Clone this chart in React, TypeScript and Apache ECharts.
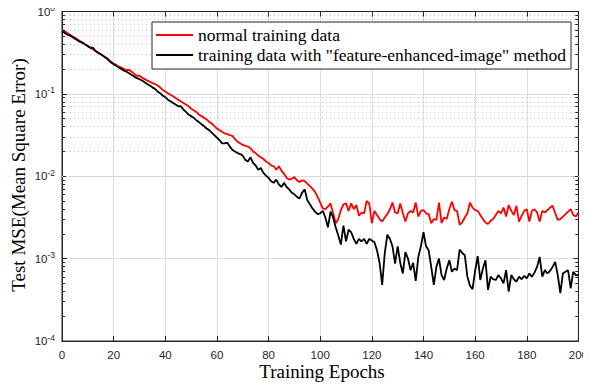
import React, { useEffect, useRef } from "react";
import * as echarts from "echarts";

const epochs: number[] = Array.from({ length: 201 }, (_, i) => i);

const normalData = [
  0.603, 0.575, 0.550, 0.525, 0.501, 0.479, 0.457, 0.437, 0.417, 0.398,
  0.380, 0.363, 0.347, 0.331, 0.316, 0.302, 0.288, 0.275, 0.263, 0.245,
  0.234, 0.224, 0.214, 0.209, 0.200, 0.195, 0.195, 0.186, 0.174, 0.166,
  0.166, 0.158, 0.151, 0.145, 0.141, 0.135, 0.132, 0.126, 0.120, 0.112,
  0.107, 0.102, 0.0977, 0.0933, 0.0891, 0.0851, 0.0813, 0.0776, 0.0741, 0.0708,
  0.0661, 0.0631, 0.0603, 0.0562, 0.0537, 0.0513, 0.0490, 0.0457, 0.0437, 0.0407,
  0.0380, 0.0363, 0.0347, 0.0331, 0.0324, 0.0316, 0.0309, 0.0282, 0.0263, 0.0251,
  0.0240, 0.0234, 0.0229, 0.0219, 0.0200, 0.0191, 0.0178, 0.0170, 0.0162, 0.0151,
  0.0145, 0.0135, 0.0132, 0.0120, 0.0132, 0.0117, 0.0107, 0.00955, 0.00912, 0.00933,
  0.00977, 0.00891, 0.00851, 0.00891, 0.00871, 0.00813, 0.00759, 0.00708, 0.00646, 0.00562,
  0.00479, 0.00407, 0.00398, 0.00427, 0.00468, 0.00355, 0.00269, 0.00302, 0.00389, 0.00457,
  0.00468, 0.00380, 0.00468, 0.00398, 0.00447, 0.00331, 0.00363, 0.00355, 0.00501, 0.00468,
  0.00269, 0.00380, 0.00339, 0.00302, 0.00282, 0.00316, 0.00347, 0.00398, 0.00479, 0.00363,
  0.00355, 0.00468, 0.00355, 0.00282, 0.00355, 0.00380, 0.00363, 0.00479, 0.00324, 0.00380,
  0.00389, 0.00355, 0.00347, 0.00269, 0.00302, 0.00295, 0.00479, 0.00269, 0.00316, 0.00302,
  0.00398, 0.00490, 0.00389, 0.00380, 0.00257, 0.00275, 0.00316, 0.00355, 0.00479, 0.00417,
  0.00389, 0.00380, 0.00339, 0.00302, 0.00275, 0.00263, 0.00288, 0.00302, 0.00339, 0.00380,
  0.00355, 0.00417, 0.00324, 0.00447, 0.00380, 0.00339, 0.00437, 0.00282, 0.00331, 0.00380,
  0.00398, 0.00282, 0.00380, 0.00398, 0.00363, 0.00282, 0.00380, 0.00363, 0.00389, 0.00417,
  0.00437, 0.00355, 0.00295, 0.00302, 0.00324, 0.00347, 0.00372, 0.00398, 0.00339, 0.00324,
  0.00363,
];

const enhancedData = [
  0.575, 0.550, 0.525, 0.513, 0.490, 0.468, 0.447, 0.427, 0.417, 0.398,
  0.380, 0.363, 0.363, 0.331, 0.316, 0.302, 0.288, 0.275, 0.257, 0.240,
  0.229, 0.219, 0.209, 0.200, 0.191, 0.186, 0.178, 0.170, 0.162, 0.155,
  0.151, 0.145, 0.138, 0.132, 0.126, 0.120, 0.115, 0.107, 0.102, 0.0955,
  0.0912, 0.0851, 0.0813, 0.0776, 0.0741, 0.0708, 0.0708, 0.0646, 0.0603, 0.0562,
  0.0537, 0.0513, 0.0479, 0.0457, 0.0427, 0.0407, 0.0380, 0.0363, 0.0339, 0.0316,
  0.0295, 0.0275, 0.0251, 0.0251, 0.0257, 0.0229, 0.0209, 0.0200, 0.0191, 0.0186,
  0.0178, 0.0158, 0.0151, 0.0170, 0.0145, 0.0135, 0.0120, 0.0126, 0.0110, 0.0102,
  0.00955, 0.00871, 0.00832, 0.00912, 0.00794, 0.00741, 0.00832, 0.00741, 0.00692, 0.00631,
  0.00603, 0.00562, 0.00537, 0.00631, 0.00692, 0.00513, 0.00457, 0.00407, 0.00372, 0.00347,
  0.00355, 0.00380, 0.00316, 0.00240, 0.00372, 0.00316, 0.00240, 0.00191, 0.00148, 0.00251,
  0.00162, 0.00224, 0.00209, 0.00174, 0.00151, 0.00174, 0.00162, 0.00174, 0.00151, 0.00174,
  0.00166, 0.00158, 0.00126, 0.000891, 0.000479, 0.00117, 0.00195, 0.00174, 0.00141, 0.000871,
  0.00141, 0.000891, 0.000661, 0.00120, 0.00100, 0.000724, 0.000891, 0.000537, 0.00105, 0.00141,
  0.00209, 0.00141, 0.00126, 0.000794, 0.000479, 0.000794, 0.00100, 0.000631, 0.000550, 0.000759,
  0.000955, 0.000692, 0.000759, 0.000724, 0.00129, 0.00117, 0.00110, 0.000603, 0.000468, 0.000427,
  0.000708, 0.00107, 0.000550, 0.000759, 0.000955, 0.000417, 0.000603, 0.000562, 0.000550, 0.000631,
  0.000575, 0.000501, 0.000724, 0.000398, 0.000631, 0.000562, 0.000525, 0.000603, 0.000562, 0.000617,
  0.000575, 0.000661, 0.000603, 0.000676, 0.000794, 0.00105, 0.000603, 0.000724, 0.000661, 0.000708,
  0.000794, 0.000912, 0.000631, 0.000380, 0.000661, 0.000692, 0.000724, 0.000437, 0.000692, 0.000631,
  0.000631,
];

const seriesNames = [
  "normal training data",
  'training data with "feature-enhanced-image" method',
];
const seriesColors = ["#ff0000", "#000000"];

const xMin = 0;
const xMax = 200;
const xInterval = 20;
const yMin = 1e-4;
const yMax = 1;

// minor (log) grid positions: 2..9 x 10^k
const minorMultipliers = [2, 3, 4, 5, 6, 7, 8, 9];
const decades = [1e-4, 1e-3, 1e-2, 1e-1];
const minorValues: number[] = [];
decades.forEach((d) => minorMultipliers.forEach((m) => minorValues.push(m * d)));

const AX = "#262626";
const GRID = "#dedede";

export default function App() {
  const ref = useRef<HTMLDivElement>(null);

  useEffect(() => {
    if (!ref.current) return;
    const chart = echarts.init(ref.current, undefined, { renderer: "svg" });

    const axisLine = { show: true, onZero: false, lineStyle: { color: AX, width: 1 } };
    const tickStyle = { show: true, inside: true, length: 5, lineStyle: { color: AX, width: 1 } };
    const minorTickLen = 1.2; // in epochs

    const option: any = {
      animation: false,
      backgroundColor: "#ffffff",
      grid: {
        left: 62,
        right: 8,
        top: 11.5,
        bottom: 49,
        show: true,
        borderColor: AX,
        borderWidth: 1,
        backgroundColor: "transparent",
      },
      xAxis: [
        {
          type: "value",
          min: xMin,
          max: xMax,
          interval: xInterval,
          position: "bottom",
          axisLine,
          axisTick: tickStyle,
          axisLabel: {
            color: AX,
            fontSize: 11.5,
            fontFamily: "Liberation Sans",
            margin: 8,
          },
          splitLine: { show: true, lineStyle: { color: GRID, width: 1 } },
        },
        {
          type: "value",
          min: xMin,
          max: xMax,
          interval: xInterval,
          position: "top",
          axisLine,
          axisTick: tickStyle,
          axisLabel: { show: false },
          splitLine: { show: false },
        },
      ],
      yAxis: [
        {
          type: "log",
          logBase: 10,
          min: yMin,
          max: yMax,
          position: "left",
          axisLine,
          axisTick: tickStyle,
          axisLabel: {
            margin: 7,
            formatter: (v: number) => {
              const e = Math.round(Math.log10(v));
              return `{b|10}{e|${e}}`;
            },
            rich: {
              b: { fontSize: 11.5, fontFamily: "Liberation Sans", color: AX },
              e: {
                fontSize: 8.5,
                fontFamily: "Liberation Sans",
                color: AX,
                verticalAlign: "bottom",
                padding: [0, 0, 7, 0],
              },
            },
          },
          splitLine: { show: true, lineStyle: { color: GRID, width: 1 } },
        },
        {
          type: "log",
          logBase: 10,
          min: yMin,
          max: yMax,
          position: "right",
          axisLine,
          axisTick: tickStyle,
          axisLabel: { show: false },
          splitLine: { show: false },
        },
      ],
      legend: {
        data: seriesNames.map((n, i) => ({
          name: n,
          icon: "rect",
          itemStyle: { color: seriesColors[i], borderWidth: 0 },
          lineStyle: { color: seriesColors[i], type: "solid", width: 2 },
        })),
        z: 20,
        orient: "vertical",
        left: 152,
        top: 22,
        backgroundColor: "#ffffff",
        borderColor: AX,
        borderWidth: 1,
        borderRadius: 0,
        padding: [3, 5, 4, 4],
        itemGap: 0,
        itemWidth: 37,
        itemHeight: 2,
        textStyle: {
          fontFamily: "Liberation Serif",
          fontSize: 17.5,
          color: "#000",
          lineHeight: 20,
        },
      },
      series: [
        {
          name: "minor-grid",
          type: "line",
          xAxisIndex: 0,
          yAxisIndex: 0,
          data: [],
          symbol: "none",
          silent: true,
          z: 1,
          markLine: {
            z: 1,
            silent: true,
            symbol: ["none", "none"],
            label: { show: false },
            animation: false,
            lineStyle: { color: "#c4c4c4", width: 1, type: [1, 3] },
            emphasis: { disabled: true },
            data: minorValues.map((v) => ({ yAxis: v })),
          },
        },
        {
          name: "minor-ticks",
          type: "line",
          xAxisIndex: 0,
          yAxisIndex: 0,
          data: [],
          symbol: "none",
          silent: true,
          z: 6,
          markLine: {
            z: 6,
            silent: true,
            symbol: ["none", "none"],
            label: { show: false },
            animation: false,
            lineStyle: { color: AX, width: 1, type: "solid" },
            emphasis: { disabled: true },
            data: [
              ...minorValues.map((v) => [
                { coord: [xMin, v] },
                { coord: [xMin + minorTickLen, v] },
              ]),
              ...minorValues.map((v) => [
                { coord: [xMax - minorTickLen, v] },
                { coord: [xMax, v] },
              ]),
            ],
          },
        },
        {
          name: seriesNames[0],
          type: "line",
          xAxisIndex: 0,
          yAxisIndex: 0,
          data: epochs.map((e, i) => [e, normalData[i]]),
          symbol: "none",
          lineStyle: { color: seriesColors[0], width: 1.8, type: "solid" },
          itemStyle: { color: seriesColors[0] },
          z: 3,
        },
        {
          name: seriesNames[1],
          type: "line",
          xAxisIndex: 0,
          yAxisIndex: 0,
          data: epochs.map((e, i) => [e, enhancedData[i]]),
          symbol: "none",
          lineStyle: { color: seriesColors[1], width: 1.8, type: "solid" },
          itemStyle: { color: seriesColors[1] },
          z: 4,
        },
      ],
      graphic: [
        {
          type: "text",
          x: 18,
          y: 175,
          rotation: Math.PI / 2,
          style: {
            text: "Test MSE(Mean Square Error)",
            font: '19px "Liberation Serif"',
            fill: "#000",
            align: "center",
            verticalAlign: "middle",
          },
        },
        {
          type: "text",
          x: 322,
          y: 371,
          style: {
            text: "Training Epochs",
            font: '19px "Liberation Serif"',
            fill: "#000",
            align: "center",
            verticalAlign: "middle",
          },
        },
      ],
    };

    chart.setOption(option);
    return () => chart.dispose();
  }, []);

  return <div ref={ref} style={{ width: 591, height: 390, margin: -8 }} />;
}
